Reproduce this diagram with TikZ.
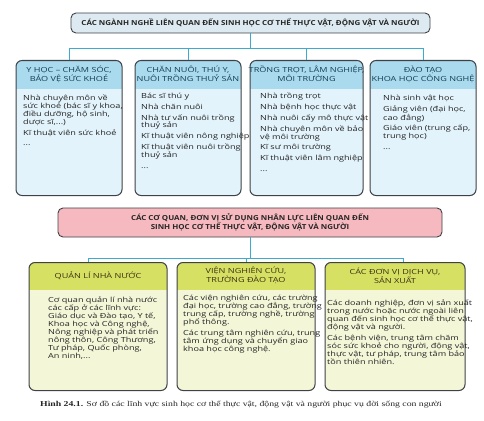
\documentclass[tikz,border=0pt]{standalone}
\usepackage{fontspec}
\setmainfont[FakeStretch=1.3]{Open Sans}
\newfontfamily\headfont[FakeStretch=1.15]{Open Sans}
\newfontfamily\captionfont[FakeStretch=1.3]{Liberation Serif}
\usepackage{tikz}
\usetikzlibrary{
    positioning,
    calc
}
\definecolor{lineBlue}{RGB}{64,170,206}
\definecolor{edgeGray}{RGB}{62,66,70}
\definecolor{titleFill}{RGB}{221,234,241}
\definecolor{hdrBlue}{RGB}{170,218,238}
\definecolor{bodyBlue}{RGB}{226,243,251}
\definecolor{hdrText}{RGB}{22,62,84}
\definecolor{bodyText}{RGB}{35,35,35}
\definecolor{pinkFill}{RGB}{246,185,191}
\definecolor{hdrGreen}{RGB}{214,224,98}
\definecolor{bodyGreen}{RGB}{244,246,216}
\definecolor{hdrOlive}{RGB}{60,48,22}

% one justified line of fixed width
\newcommand{\jl}[1]{\makebox[\linewidth][s]{#1}}

\tikzset{
  conn/.style       = {draw=lineBlue, line width=0.8pt},
  titlebox/.style   = {draw=edgeGray, line width=0.9pt, rounded corners=5pt,
                       fill=titleFill, minimum height=20pt, inner sep=0pt,
                       align=center, text=black!85,
                       font=\headfont\bfseries\fontsize{6.9}{9.5}\selectfont},
  bluepanel/.style  = {draw=edgeGray, line width=1pt, rounded corners=6pt,
                       fill=bodyBlue, anchor=north, inner sep=0pt,
                       minimum height=135pt,
                       path picture={\fill[hdrBlue, sharp corners]
                         (path picture bounding box.north west) rectangle
                         ([yshift=-28pt]path picture bounding box.north east);}},
  greenpanel/.style = {draw=edgeGray, line width=1pt, rounded corners=6pt,
                       fill=bodyGreen, anchor=north, inner sep=0pt,
                       minimum height=128pt,
                       path picture={\fill[hdrGreen, sharp corners]
                         (path picture bounding box.north west) rectangle
                         ([yshift=-27pt]path picture bounding box.north east);}},
  bluehead/.style   = {inner sep=0pt, align=center, text=hdrText,
                       font=\fontsize{7}{8.8}\selectfont},
  greenhead/.style  = {bluehead, text=hdrOlive},
  items/.style      = {inner sep=0pt, anchor=north west, align=left,
                       text=bodyText, font=\fontsize{7}{7.8}\selectfont},
  para/.style       = {items, text width=#1, font=\fontsize{7}{8}\selectfont}
}

\begin{document}
\begin{tikzpicture}[x=1pt, y=-1pt]
\useasboundingbox (0,0) rectangle (484,420);

% --- TOP TITLE ---
\node[titlebox, minimum width=359pt] (nganh) at (250.5,23)
  {CÁC NGÀNH NGHỀ LIÊN QUAN ĐẾN SINH HỌC CƠ THỂ THỰC VẬT, ĐỘNG VẬT VÀ NGƯỜI};

% --- FOUR FIELDS ---
\node[bluepanel, minimum width=106pt] (yhoc)      at (69,60)    {};
\node[bluepanel, minimum width=106pt] (channuoi)  at (188,60)   {};
\node[bluepanel, minimum width=113pt] (trongtrot) at (306.5,60) {};
\node[bluepanel, minimum width=106pt] (daotao)    at (423,60)   {};

\node[bluehead] (yhocT)      at (69,74)    {Y HỌC – CHĂM SÓC,\\BẢO VỆ SỨC KHOẺ};
\node[bluehead] (channuoiT)  at (188,74)   {CHĂN NUÔI, THÚ Y,\\NUÔI TRỒNG THUỶ SẢN};
\node[bluehead] (trongtrotT) at (306.5,74) {TRỒNG TRỌT, LÂM NGHIỆP,\\MÔI TRƯỜNG};
\node[bluehead] (daotaoT)    at (423,74)   {ĐÀO TẠO\\KHOA HỌC CÔNG NGHỆ};

\node[items] (yhocL) at (23,95) {
  Nhà chuyên môn về\\sức khoẻ (bác sĩ y khoa,\\điều dưỡng, hộ sinh,\\dược sĩ,...)\\[3pt]
  Kĩ thuật viên sức khoẻ\\[3pt]
  ...};
\node[items] (channuoiL) at (141,93) {
  Bác sĩ thú y\\[3pt]
  Nhà chăn nuôi\\[3pt]
  Nhà tư vấn nuôi trồng\\thuỷ sản\\[3pt]
  Kĩ thuật viên nông nghiệp\\[3pt]
  Kĩ thuật viên nuôi trồng\\thuỷ sản\\[3pt]
  ...};
\node[items] (trongtrotL) at (260,93) {
  Nhà trồng trọt\\[3pt]
  Nhà bệnh học thực vật\\[3pt]
  Nhà nuôi cấy mô thực vật\\[3pt]
  Nhà chuyên môn về bảo\\vệ môi trường\\[3pt]
  Kĩ sư môi trường\\[3pt]
  Kĩ thuật viên lâm nghiệp\\[3pt]
  ...};
\node[items] (daotaoL) at (383,95) {
  Nhà sinh vật học\\[3pt]
  Giảng viên (đại học,\\cao đẳng)\\[3pt]
  Giáo viên (trung cấp,\\trung học)\\[3pt]
  ...};

% --- CONNECTIONS: TITLE TO FIELDS ---
\coordinate (nganhJ) at ($(nganh.south)+(0,15)$);
\draw[conn] (nganh.south) -- (nganhJ);
\foreach \f in {yhoc, channuoi, trongtrot, daotao}
  \draw[conn] (nganhJ) -| (\f.north);

% --- EMPLOYERS ---
\node[titlebox, fill=pinkFill, minimum width=384pt, minimum height=29pt] (coquan) at (250,222.5)
  {CÁC CƠ QUAN, ĐƠN VỊ SỬ DỤNG NHÂN LỰC LIÊN QUAN ĐẾN\\SINH HỌC CƠ THỂ THỰC VẬT, ĐỘNG VẬT VÀ NGƯỜI};

\node[greenpanel, minimum width=138pt] (quanli) at (98,262)  {};
\node[greenpanel, minimum width=138pt] (vien)   at (246,262) {};
\node[greenpanel, minimum width=140pt] (dichvu) at (395,262) {};

\node[greenhead] (quanliT) at (98,275.5) {QUẢN LÍ NHÀ NƯỚC};
\node[greenhead] (vienT)   at (246,275.5) {VIỆN NGHIÊN CỨU,\\TRƯỜNG ĐÀO TẠO};
\node[greenhead] (dichvuT) at (395,275.5) {CÁC ĐƠN VỊ DỊCH VỤ,\\SẢN XUẤT};

\node[para=104pt] (quanliL) at (48,297) {
  \jl{Cơ quan quản lí nhà nước}\\
  \jl{các cấp ở các lĩnh vực:}\\
  \jl{Giáo dục và Đào tạo, Y tế,}\\
  \jl{Khoa học và Công nghệ,}\\
  \jl{Nông nghiệp và phát triển}\\
  \jl{nông thôn, Công Thương,}\\
  \jl{Tư pháp, Quốc phòng,}\\
  An ninh,...};
\node[para=129pt] (vienL) at (183,295) {
  \jl{Các viện nghiên cứu, các trường}\\
  \jl{đại học, trường cao đẳng, trường}\\
  \jl{trung cấp, trường nghề, trường}\\
  phổ thông.\\[2.7pt]
  \jl{Các trung tâm nghiên cứu, trung}\\
  \jl{tâm ứng dụng và chuyển giao}\\
  khoa học công nghệ.};
\node[para=136pt] (dichvuL) at (327,299.5) {
  \jl{Các doanh nghiệp, đơn vị sản xuất}\\
  \jl{trong nước hoặc nước ngoài liên}\\
  \jl{quan đến sinh học cơ thể thực vật,}\\
  động vật và người.\\[3pt]
  \jl{Các bệnh viện, trung tâm chăm}\\
  \jl{sóc sức khoẻ cho người, động vật,}\\
  \jl{thực vật, tư pháp, trung tâm bảo}\\
  tồn thiên nhiên.};

% --- CONNECTIONS: EMPLOYERS TO GROUPS ---
\coordinate (coquanJ) at ($(coquan.south)+(0,21)$);
\draw[conn] (coquan.south) -- (coquanJ);
\draw[conn] (coquanJ) -| ([xshift=-10pt]quanli.north);
\draw[conn] (coquanJ) -| (vien.north);
\draw[conn] (coquanJ) -| ([xshift=8pt]dichvu.north);

% --- CAPTION ---
\node[font=\captionfont\fontsize{7.5}{9}\selectfont, text=black!85] (hinh) at (241,405)
  {\textbf{Hình 24.1.} Sơ đồ các lĩnh vực sinh học cơ thể thực vật, động vật và người phục vụ đời sống con người};
\end{tikzpicture}
\end{document}
